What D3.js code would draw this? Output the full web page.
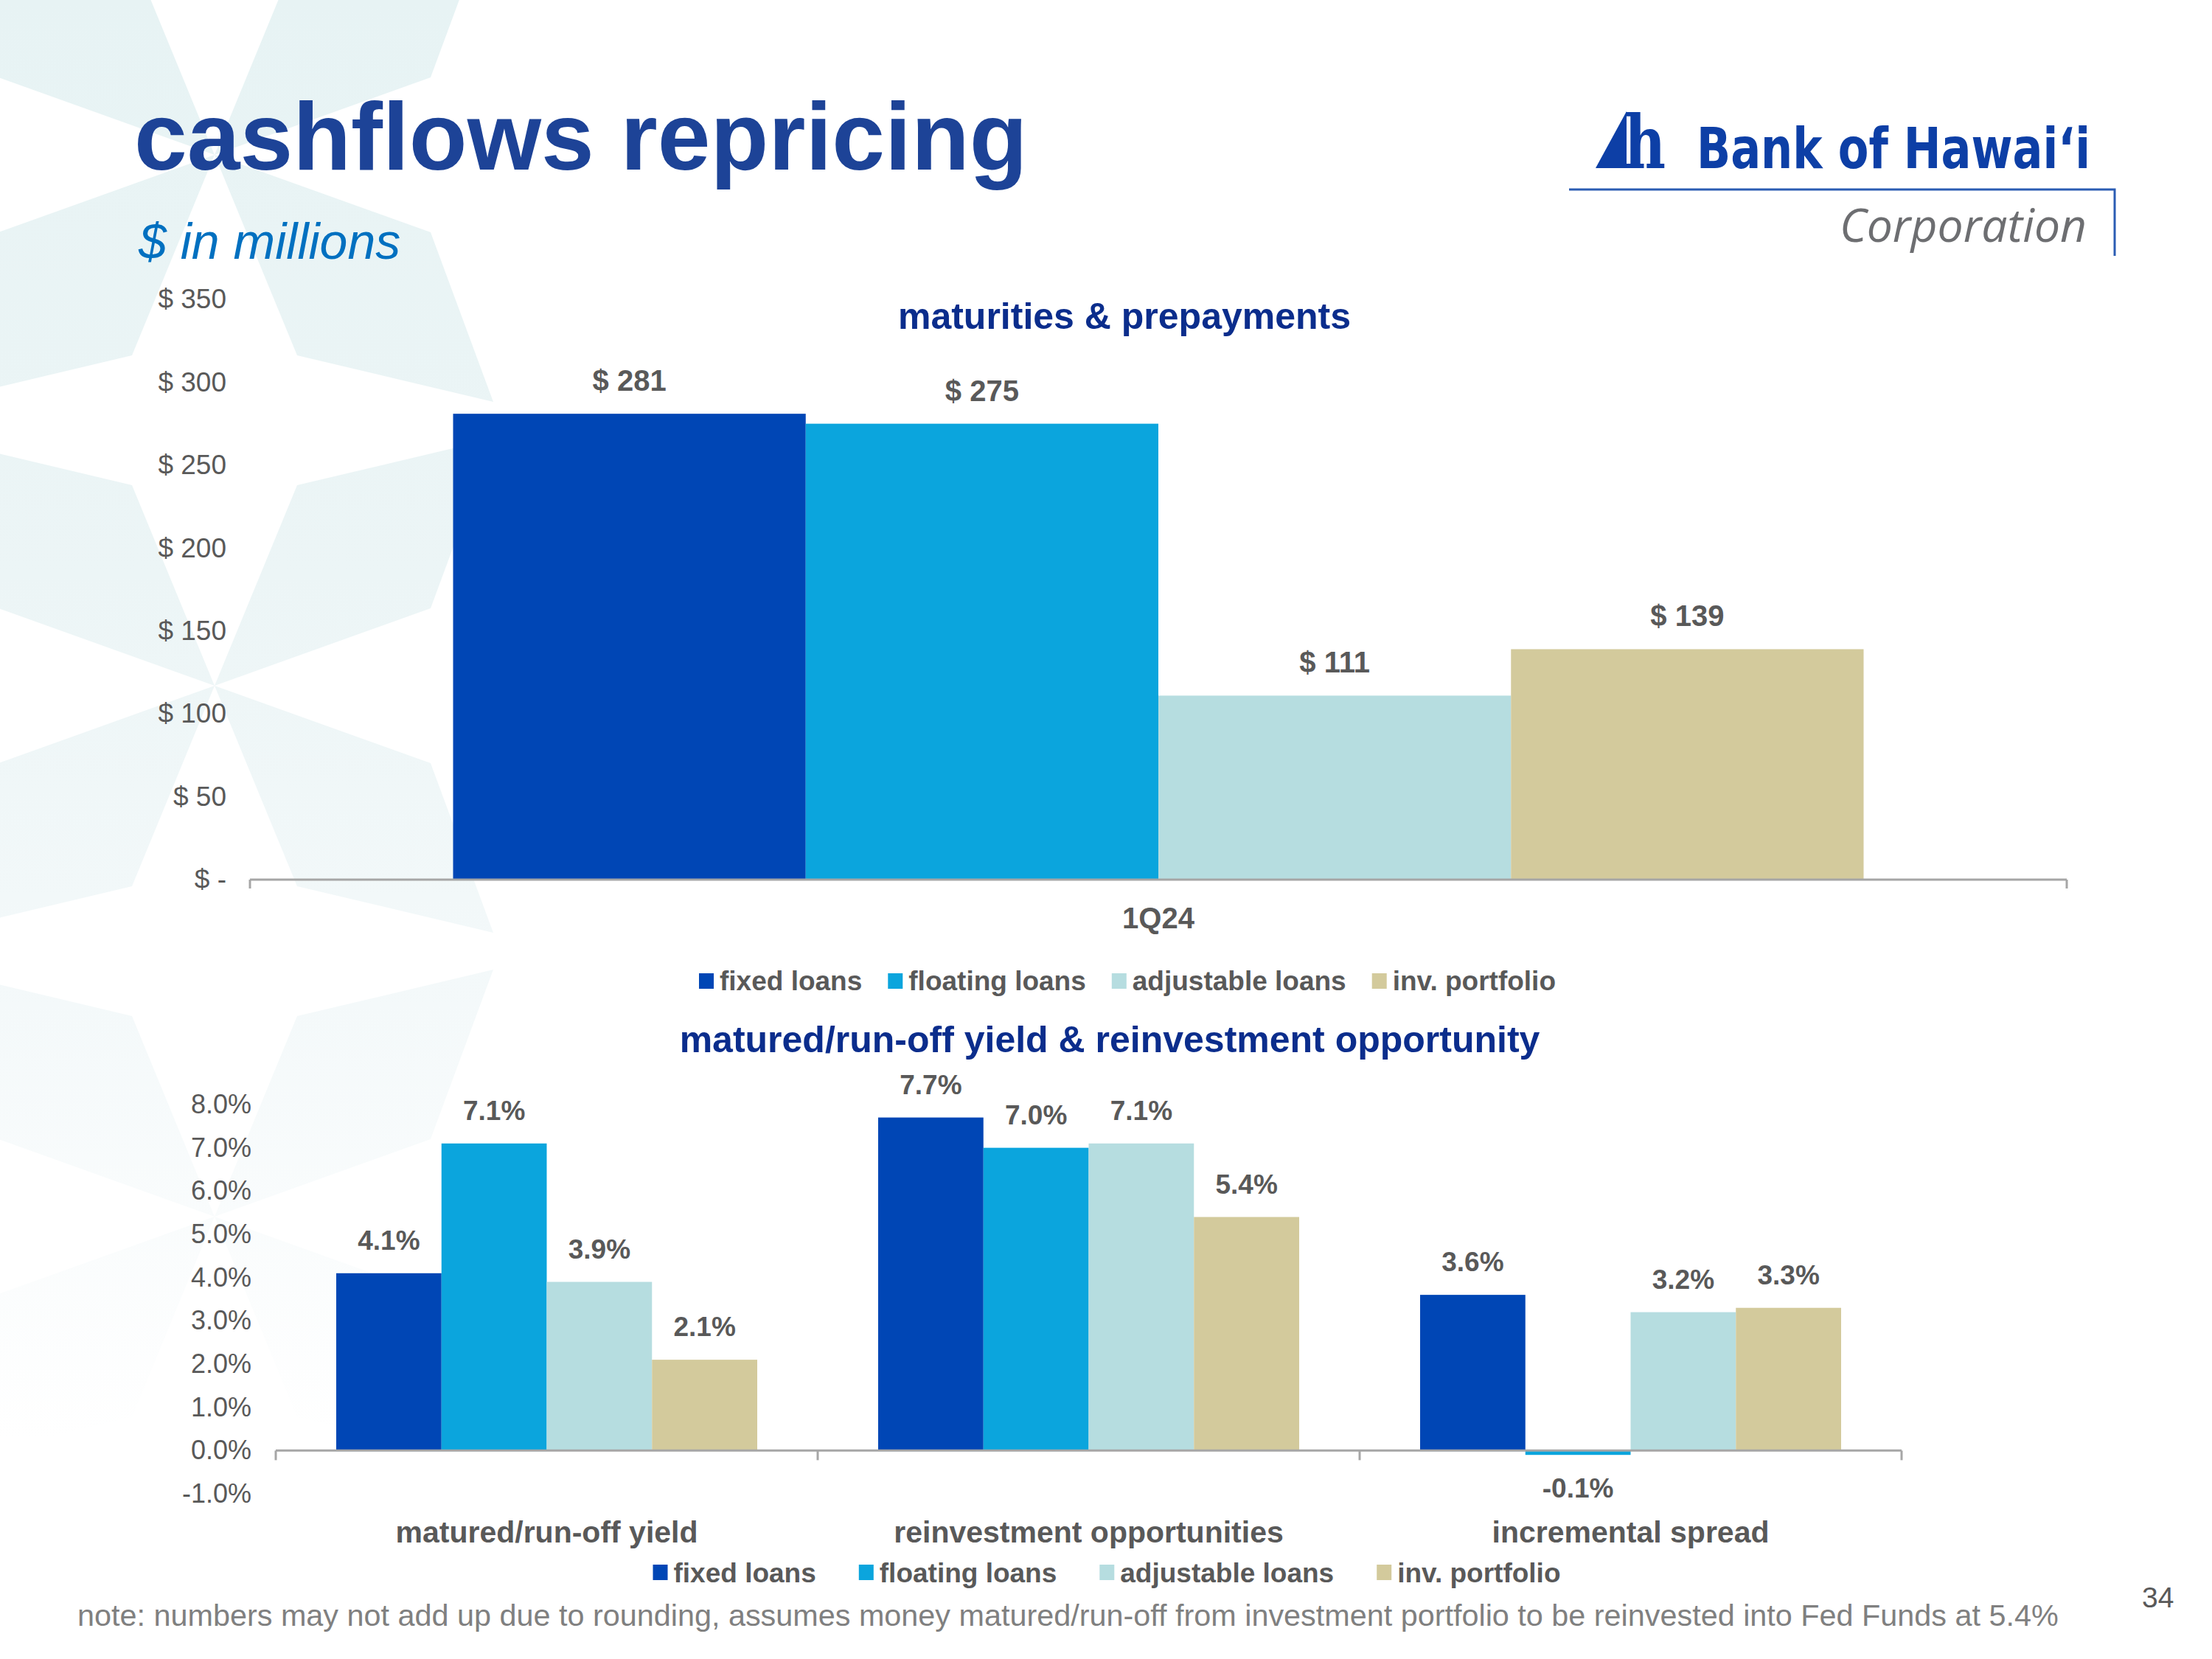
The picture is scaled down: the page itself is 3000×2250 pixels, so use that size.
<!DOCTYPE html>
<html>
<head>
<meta charset="utf-8">
<script src="https://cdn.jsdelivr.net/npm/d3@7"></script>
<style>
  body { margin: 0; background: #fff; }
  svg { display: block; }
</style>
</head>
<body>
<svg id="chart"></svg>
<script>
var width = 3000;
var height = 2250;
var font = "'Liberation Sans', Arial, sans-serif";
var gray = "#595959";
var navy = "#0b2d8c";

// data
var seriesNames = ["fixed loans", "floating loans", "adjustable loans", "inv. portfolio"];
var seriesColors = ["#0046b5", "#0ba5dd", "#b6dde0", "#d3ca9c"];

var topCategories = ["1Q24"];
var topValues = [281, 275, 111, 139];
var topTicks = [0, 50, 100, 150, 200, 250, 300, 350];

var yieldCategories = ["matured/run-off yield", "reinvestment opportunities", "incremental spread"];
var fixedYield = [4.1, 7.7, 3.6];
var floatingYield = [7.1, 7.0, -0.1];
var adjustableYield = [3.9, 7.1, 3.2];
var portfolioYield = [2.1, 5.4, 3.3];
var yieldTicks = [-1, 0, 1, 2, 3, 4, 5, 6, 7, 8];

var svg = d3.select("#chart")
    .attr("width", width)
    .attr("height", height)
    .attr("font-family", font);

// faint star pattern in the background
var defs = svg.append("defs");
var grad = defs.append("linearGradient")
    .attr("id", "fade")
    .attr("gradientUnits", "userSpaceOnUse")
    .attr("x1", 0).attr("y1", 0).attr("x2", 0).attr("y2", 1950);
grad.append("stop").attr("offset", 0).attr("stop-color", "#e7f3f4");
grad.append("stop").attr("offset", 0.4).attr("stop-color", "#ecf5f6");
grad.append("stop").attr("offset", 0.7).attr("stop-color", "#f4f9fa");
grad.append("stop").attr("offset", 1).attr("stop-color", "#ffffff");

var petal = [[0, 0], [293, 105], [378, 335], [112, 272]];
var flips = [[1, 1], [-1, 1], [1, -1], [-1, -1]];
var starCentres = [210, 930, 1650];
var bg = svg.append("g");
starCentres.forEach(function(cy) {
    flips.forEach(function(f) {
        bg.append("polygon")
            .attr("points", petal.map(p => (291 + f[0] * p[0]) + "," + (cy + f[1] * p[1])).join(" "))
            .attr("fill", "url(#fade)");
    });
});

// title block
svg.append("text")
    .attr("x", 182).attr("y", 230)
    .attr("font-size", 129).attr("font-weight", "bold")
    .attr("fill", "#1d4397")
    .text("cashflows repricing");

svg.append("text")
    .attr("x", 188).attr("y", 351)
    .attr("font-size", 68).attr("font-style", "italic")
    .attr("fill", "#0070c0")
    .text("$ in millions");

// logo
var logo = svg.append("g");
logo.append("polygon")
    .attr("points", "2164,228 2206,151 2206,228")
    .attr("fill", "#0d3fa6");
logo.append("text")
    .attr("x", 2203).attr("y", 228)
    .attr("font-family", "'DejaVu Serif', serif")
    .attr("font-size", 100).attr("font-weight", "bold")
    .attr("textLength", 56).attr("lengthAdjust", "spacingAndGlyphs")
    .attr("fill", "#0d3fa6")
    .text("h");
logo.append("text")
    .attr("x", 2301).attr("y", 228)
    .attr("font-family", "'Liberation Sans Narrow', 'DejaVu Sans Condensed', 'Liberation Sans', sans-serif")
    .attr("font-size", 76).attr("font-weight", "bold")
    .attr("textLength", 534).attr("lengthAdjust", "spacingAndGlyphs")
    .attr("fill", "#0d3fa6")
    .text("Bank of Hawai\u02BBi");
logo.append("polyline")
    .attr("points", "2128,257 2868,257 2868,347")
    .attr("fill", "none")
    .attr("stroke", "#2b5cb3")
    .attr("stroke-width", 3);
logo.append("text")
    .attr("x", 2495).attr("y", 328)
    .attr("font-family", "'Open Sans', sans-serif")
    .attr("font-size", 62).attr("font-style", "italic")
    .attr("textLength", 335).attr("lengthAdjust", "spacingAndGlyphs")
    .attr("fill", "#6d6e71")
    .text("Corporation");

// legend helper: square, gap, label, centred on cx
function legend(cx, baseline, itemGap, squareTop) {
    var g = svg.append("g");
    var items = g.selectAll("g")
        .data(seriesNames)
        .enter()
        .append("g");
    items.append("rect")
        .attr("width", 20).attr("height", 21)
        .attr("y", squareTop)
        .attr("fill", (d, i) => seriesColors[i]);
    items.append("text")
        .attr("y", baseline)
        .attr("font-size", 37).attr("font-weight", "bold")
        .attr("fill", gray)
        .text(d => d);
    var widths = [];
    items.select("text").each(function() { widths.push(this.getComputedTextLength()); });
    var total = d3.sum(widths) + seriesNames.length * 28 + (seriesNames.length - 1) * itemGap;
    var x = cx - total / 2;
    items.each(function(d, i) {
        d3.select(this).select("rect").attr("x", x);
        d3.select(this).select("text").attr("x", x + 28);
        x += 28 + widths[i] + itemGap;
    });
}

// ---------- top chart: maturities & prepayments ----------
var xTop = d3.scaleBand()
    .domain(topCategories)
    .range([339, 2803]);
var xTopInner = d3.scaleBand()
    .domain(seriesNames)
    .range([275.5, xTop.bandwidth() - 275.5]);
var yTop = d3.scaleLinear()
    .domain([0, 350])
    .range([1193, 406]);

svg.append("text")
    .attr("x", 1525).attr("y", 446)
    .attr("text-anchor", "middle")
    .attr("font-size", 50).attr("font-weight", "bold")
    .attr("fill", navy)
    .text("maturities & prepayments");

var topBars = svg.append("g")
    .selectAll("g")
    .data(topCategories)
    .enter()
    .append("g");
topBars.selectAll("rect")
    .data(() => seriesNames.map((s, i) => ({ s: s, v: topValues[i], c: seriesColors[i] })))
    .enter()
    .append("rect")
        .attr("x", function(d) { return xTop(d3.select(this.parentNode).datum()) + xTopInner(d.s); })
        .attr("y", d => yTop(d.v))
        .attr("width", xTopInner.bandwidth())
        .attr("height", d => yTop(0) - yTop(d.v))
        .attr("fill", d => d.c);
topBars.selectAll("text")
    .data(() => seriesNames.map((s, i) => ({ s: s, v: topValues[i] })))
    .enter()
    .append("text")
        .attr("x", function(d) { return xTop(d3.select(this.parentNode).datum()) + xTopInner(d.s) + xTopInner.bandwidth() / 2; })
        .attr("y", d => yTop(d.v) - 31)
        .attr("text-anchor", "middle")
        .attr("font-size", 40).attr("font-weight", "bold")
        .attr("fill", gray)
        .text(d => "$ " + d.v);

var yTopAxis = svg.append("g")
    .attr("transform", "translate(339,0)")
    .call(d3.axisLeft(yTop)
        .tickValues(topTicks)
        .tickSize(0)
        .tickPadding(32)
        .tickFormat(d => d === 0 ? "$ -" : "$ " + d));
yTopAxis.select(".domain").remove();
yTopAxis.attr("font-family", font).attr("font-size", 37);
yTopAxis.selectAll("text").attr("fill", gray);

svg.append("line")
    .attr("x1", xTop.range()[0]).attr("x2", xTop.range()[1])
    .attr("y1", yTop(0)).attr("y2", yTop(0))
    .attr("stroke", "#a6a6a6").attr("stroke-width", 3);
svg.append("g")
    .selectAll("line")
    .data(xTop.range())
    .enter()
    .append("line")
        .attr("x1", d => d).attr("x2", d => d)
        .attr("y1", yTop(0)).attr("y2", yTop(0) + 12)
        .attr("stroke", "#a6a6a6").attr("stroke-width", 3);

svg.append("g")
    .selectAll("text")
    .data(topCategories)
    .enter()
    .append("text")
        .attr("x", d => xTop(d) + xTop.bandwidth() / 2)
        .attr("y", 1259)
        .attr("text-anchor", "middle")
        .attr("font-size", 40).attr("font-weight", "bold")
        .attr("fill", gray)
        .text(d => d);

legend(1529, 1343, 35, 1320);

// ---------- bottom chart: yields ----------
var yieldSeries = [fixedYield, floatingYield, adjustableYield, portfolioYield];

var x0 = d3.scaleBand()
    .domain(yieldCategories)
    .range([374, 2579]);
var x1 = d3.scaleBand()
    .domain(seriesNames)
    .range([82, x0.bandwidth() - 82]);
var yBot = d3.scaleLinear()
    .domain([-1, 8])
    .range([2026, 1498]);

svg.append("text")
    .attr("x", 1505).attr("y", 1427)
    .attr("text-anchor", "middle")
    .attr("font-size", 50).attr("font-weight", "bold")
    .attr("fill", navy)
    .text("matured/run-off yield & reinvestment opportunity");

var groups = svg.append("g")
    .selectAll("g")
    .data(yieldCategories)
    .enter()
    .append("g")
        .attr("transform", d => "translate(" + x0(d) + ",0)");
groups.selectAll("rect")
    .data((d, j) => seriesNames.map((s, i) => ({ s: s, v: yieldSeries[i][j], c: seriesColors[i] })))
    .enter()
    .append("rect")
        .attr("x", d => x1(d.s))
        .attr("y", d => Math.min(yBot(d.v), yBot(0)))
        .attr("width", x1.bandwidth())
        .attr("height", d => Math.abs(yBot(d.v) - yBot(0)))
        .attr("fill", d => d.c);
groups.selectAll("text")
    .data((d, j) => seriesNames.map((s, i) => ({ s: s, v: yieldSeries[i][j] })))
    .enter()
    .append("text")
        .attr("x", d => x1(d.s) + x1.bandwidth() / 2)
        .attr("y", d => d.v >= 0 ? yBot(d.v) - 32 : yBot(d.v) + 58)
        .attr("text-anchor", "middle")
        .attr("font-size", 37).attr("font-weight", "bold")
        .attr("fill", gray)
        .text(d => d.v.toFixed(1) + "%");

var yBotAxis = svg.append("g")
    .attr("transform", "translate(374,0)")
    .call(d3.axisLeft(yBot)
        .tickValues(yieldTicks)
        .tickSize(0)
        .tickPadding(33)
        .tickFormat(d => d.toFixed(1) + "%"));
yBotAxis.select(".domain").remove();
yBotAxis.attr("font-family", font).attr("font-size", 36);
yBotAxis.selectAll("text").attr("fill", gray);

svg.append("line")
    .attr("x1", x0.range()[0]).attr("x2", x0.range()[1])
    .attr("y1", yBot(0)).attr("y2", yBot(0))
    .attr("stroke", "#a6a6a6").attr("stroke-width", 3);
svg.append("g")
    .selectAll("line")
    .data(yieldCategories.map(d => x0(d)).concat([x0.range()[1]]))
    .enter()
    .append("line")
        .attr("x1", d => d).attr("x2", d => d)
        .attr("y1", yBot(0)).attr("y2", yBot(0) + 13)
        .attr("stroke", "#a6a6a6").attr("stroke-width", 3);

svg.append("g")
    .selectAll("text")
    .data(yieldCategories)
    .enter()
    .append("text")
        .attr("x", d => x0(d) + x0.bandwidth() / 2)
        .attr("y", 2092)
        .attr("text-anchor", "middle")
        .attr("font-size", 41).attr("font-weight", "bold")
        .attr("fill", gray)
        .text(d => d);

legend(1501, 2146, 58, 2122);

// footnote and page number
var note = svg.append("text")
    .attr("x", 105).attr("y", 2205)
    .attr("font-size", 38)
    .attr("fill", "#808080")
    .text("note: numbers may not add up due to rounding, assumes money matured/run-off from investment portfolio to be reinvested into Fed Funds at 5.4%");
var noteWidth = note.node().getComputedTextLength();
note.attr("font-size", 38 * 2687 / noteWidth);

svg.append("text")
    .attr("x", 2905).attr("y", 2180)
    .attr("font-size", 39)
    .attr("fill", gray)
    .text("34");
</script>
</body>
</html>
